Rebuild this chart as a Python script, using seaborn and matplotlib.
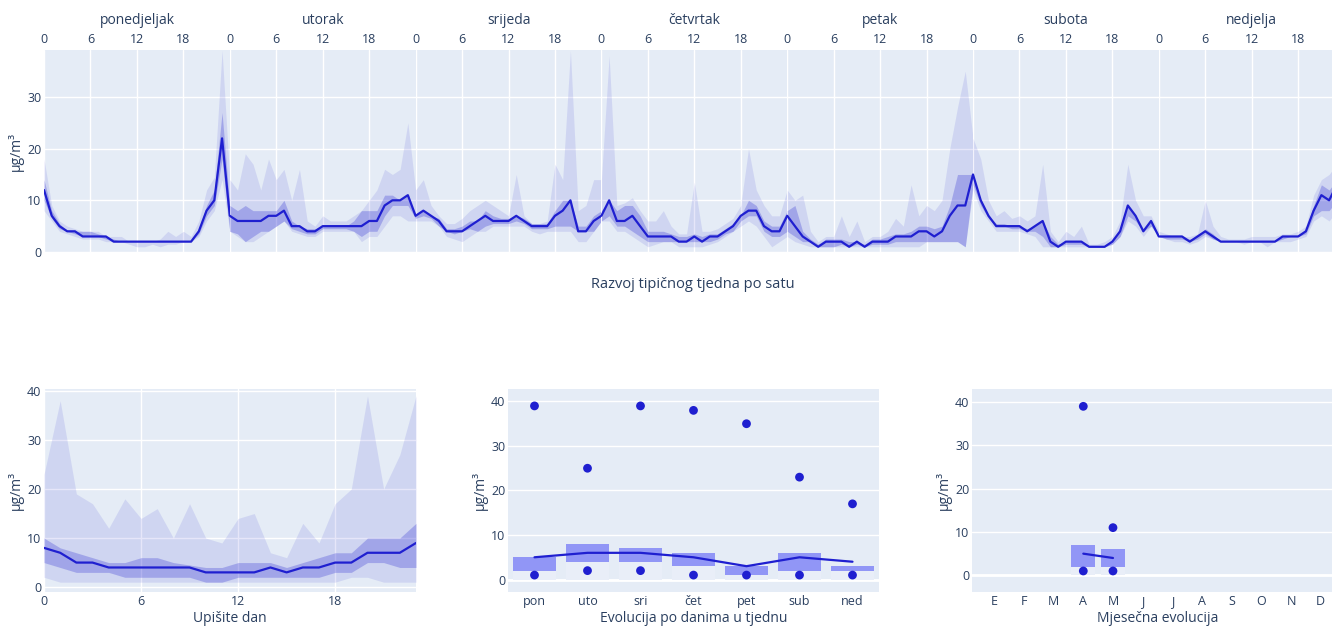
import numpy as np
import pandas as pd
import matplotlib
matplotlib.use("Agg")
import matplotlib.pyplot as plt
import seaborn as sns

# ---------------- data ----------------
days = ["ponedjeljak", "utorak", "srijeda", "četvrtak", "petak", "subota", "nedjelja"]
hours = list(range(24))

med_pon = [12, 7, 5, 4, 4, 3, 3, 3, 3, 2, 2, 2, 2, 2, 2, 2, 2, 2, 2, 2, 4, 8, 10, 22]
med_uto = [7, 6, 6, 6, 6, 7, 7, 8, 5, 5, 4, 4, 5, 5, 5, 5, 5, 5, 6, 6, 9, 10, 10, 11]
med_sri = [7, 8, 7, 6, 4, 4, 4, 5, 6, 7, 6, 6, 6, 7, 6, 5, 5, 5, 7, 8, 10, 4, 4, 6]
med_cet = [7, 10, 6, 6, 7, 5, 3, 3, 3, 3, 2, 2, 3, 2, 3, 3, 4, 5, 7, 8, 8, 5, 4, 4]
med_pet = [7, 5, 3, 2, 1, 2, 2, 2, 1, 2, 1, 2, 2, 2, 3, 3, 3, 4, 4, 3, 4, 7, 9, 9]
med_sub = [15, 10, 7, 5, 5, 5, 5, 4, 5, 6, 2, 1, 2, 2, 2, 1, 1, 1, 2, 4, 9, 7, 4, 6]
med_ned = [3, 3, 3, 3, 2, 3, 4, 3, 2, 2, 2, 2, 2, 2, 2, 2, 3, 3, 3, 4, 8, 11, 10, 13]

hi_pon = [18, 9, 6, 5, 4.5, 4, 4, 4, 3, 3, 3, 2, 2, 2, 2, 2.5, 4, 3, 4, 3, 6, 12, 14.5, 39]
lo_pon = [8, 6, 4, 3.5, 3, 2.5, 2.5, 2.5, 2, 2, 2, 1.5, 1, 1, 1.5, 1, 1.5, 1.5, 2, 2, 3, 6, 8, 14]
q3_pon = [14, 8, 5.5, 4, 4, 4, 4, 3.5, 3, 2.5, 2, 2, 2, 2, 2, 2, 2, 2, 2, 2, 4.5, 9, 12, 27]
q1_pon = [10, 6.5, 4.5, 4, 3.5, 3, 3, 3, 2.5, 2, 2, 2, 2, 2, 2, 2, 2, 2, 2, 2, 3.5, 7, 9, 18]

hi_uto = [14, 12, 19, 17, 12, 18, 14, 16, 10, 16, 6, 5, 7, 6, 6, 6, 7, 8, 10, 12, 16, 15, 16, 25]
lo_uto = [4, 3, 2, 2, 3, 4, 5, 6, 4, 3.5, 3, 3, 4, 4, 4, 4, 4, 2, 3, 3, 5, 7, 7, 6]
q3_uto = [9, 8, 9, 8, 8, 8, 8, 10, 6, 5, 4.5, 4.5, 5, 5, 5, 5, 6, 8, 8, 8, 11, 11, 10, 11]
q1_uto = [4, 3.5, 2, 3, 4, 4, 5, 6, 4.5, 4, 3.5, 3.5, 4.5, 4.5, 4.5, 4.5, 4, 3, 4, 4, 7, 9, 9, 9]

hi_sri = [12, 14, 9, 7, 5.5, 5.5, 6.5, 8, 9, 10, 9, 8, 7, 15, 7, 5.5, 5.5, 6, 17, 14, 39, 8, 9, 14]
lo_sri = [6, 6, 6, 5, 3, 2.5, 2, 3, 4, 4, 5, 5, 5, 5, 5, 4, 3.5, 4, 4, 4, 4, 2, 2, 4]
q3_sri = [7, 8, 7, 6.5, 4.5, 4.5, 5, 6, 6, 8, 7, 6.5, 6.5, 7, 6.5, 5.5, 5.5, 5.5, 8, 10, 10, 5, 5, 7]
q1_sri = [6.5, 7, 6.5, 5, 4, 3.5, 4, 4.5, 4, 5, 5.5, 5.5, 5.5, 6, 5.5, 4.5, 4.5, 4.5, 5, 5, 5, 4, 4, 4]

hi_cet = [14, 38, 9, 9.5, 10.5, 8, 6, 6, 8, 5, 3.5, 3.5, 13.5, 4, 4, 4.5, 5.5, 6.5, 9, 20, 12, 9, 7, 7]
lo_cet = [6, 6, 4, 4, 3, 2, 1, 1.5, 2, 2, 1, 1, 1, 1, 1.5, 2, 3, 4, 5, 6, 5, 3, 1, 2]
q3_cet = [8, 10, 8, 9, 9, 7, 4, 4, 4, 3.5, 3, 3, 3.5, 3, 3.5, 3.5, 4.5, 5.5, 7, 10, 9, 6, 5, 5]
q1_cet = [6, 7, 5, 5, 4, 3, 2, 2, 2, 2, 2, 2, 2, 2, 2, 2.5, 3.5, 4, 6, 7, 7, 4, 3, 3]

hi_pet = [12, 10, 11, 4, 2, 3, 3, 7, 3, 6, 2, 3, 3, 4, 6.5, 5, 13, 7, 9, 8, 10, 20, 28, 35]
lo_pet = [3, 2, 1.5, 1, 1, 1, 1, 1, 1, 1, 1, 1, 1, 1, 1, 1, 1, 1, 2, 2, 2, 2, 2, 1]
q3_pet = [8, 9, 4, 2.5, 1.5, 2.5, 2.5, 2.5, 2, 2, 1.5, 2.5, 2.5, 3, 3.5, 3.5, 4, 5, 5, 4.5, 5, 9, 15, 15]
q1_pet = [4, 3, 2, 2, 1, 1, 1, 1.5, 1, 1.5, 1, 1.5, 1.5, 1.5, 2, 2, 2, 2, 2, 2, 2, 2, 2, 1]

hi_sub = [22, 18, 10, 7, 8, 6.5, 7, 6, 7, 17, 4, 2, 4, 3, 5, 1.5, 1.5, 2, 3, 6, 17, 10, 7, 7]
lo_sub = [12, 8, 6, 4, 4, 4, 4, 3.5, 3, 1, 1, 1, 1, 1, 1, 1, 1, 1, 1.5, 3, 6, 5, 3, 5]
q3_sub = [15, 10, 7, 5.5, 5.5, 5, 5, 4.5, 5, 6, 3, 1.5, 2, 2, 2, 1, 1, 1, 2, 4.5, 9, 7, 4.5, 6]
q1_sub = [13, 9, 6.5, 5, 5, 4.5, 4.5, 4, 4, 3, 1, 1, 1.5, 1.5, 1.5, 1, 1, 1, 1.5, 3, 7, 6, 4, 5]

hi_ned = [4, 3.5, 3, 3, 3, 3.5, 10, 5, 3, 2.5, 2.5, 2.5, 3, 3, 3, 3, 3.5, 3.5, 4, 5, 11, 14, 15, 17]
lo_ned = [3, 2.5, 2, 2, 1.5, 2, 3, 2.5, 2, 2, 2, 1.5, 2, 2, 1, 2, 2, 2, 2.5, 3, 6, 7, 6, 8]
q3_ned = [3, 3, 3, 3, 2.5, 3, 4.5, 3.5, 2, 2, 2, 2, 2, 2, 2, 2, 3, 3, 3, 4.5, 9, 13, 12, 14]
q1_ned = [3, 2.5, 2.5, 2.5, 2, 2.5, 3.5, 2.5, 2, 2, 2, 2, 2, 2, 2, 2, 2.5, 3, 3, 3.5, 7, 8, 8, 10]

# typical day (all days combined)
day_med = [8, 7, 5, 5, 4, 4, 4, 4, 4, 4, 3, 3, 3, 3, 4, 3, 4, 4, 5, 5, 7, 7, 7, 9]
day_hi = [23, 38, 19, 17, 12, 18, 14, 16, 10, 17, 10, 9, 14, 15, 7, 6, 13, 9, 17, 20, 39, 20, 27, 39]
day_lo = [2, 1, 1, 1, 1, 1, 1, 1, 1, 1, 1, 1, 1, 1, 1, 1, 1, 1, 1, 2, 2, 1, 1, 1]
day_q3 = [10, 8, 7, 6, 5, 5, 6, 6, 5, 4.5, 4, 4, 5, 5, 5, 4, 5, 6, 7, 7, 10, 10, 10, 13]
day_q1 = [5, 4, 3, 3, 3, 2, 2, 2, 2, 2, 1, 1, 2, 2, 2, 2, 2, 2, 3, 3, 5, 5, 4, 4]

# weekday summary
wd_labels = ["pon", "uto", "sri", "čet", "pet", "sub", "ned"]
wd_min = [1, 2, 2, 1, 1, 1, 1]
wd_q1 = [2, 4, 4, 3, 1, 2, 2]
wd_med = [5, 6, 6, 5, 3, 5, 4]
wd_q3 = [5, 8, 7, 6, 3, 6, 3]
wd_max = [39, 25, 39, 38, 35, 23, 17]

# monthly summary
mo_labels = ["E", "F", "M", "A", "M", "J", "J", "A", "S", "O", "N", "D"]
mo_pos = [3, 4]
mo_min = [1, 1]
mo_q1 = [2, 2]
mo_med = [5, 4]
mo_q3 = [7, 6]
mo_max = [39, 11]

week_med = [med_pon, med_uto, med_sri, med_cet, med_pet, med_sub, med_ned]
week_hi = [hi_pon, hi_uto, hi_sri, hi_cet, hi_pet, hi_sub, hi_ned]
week_lo = [lo_pon, lo_uto, lo_sri, lo_cet, lo_pet, lo_sub, lo_ned]
week_q3 = [q3_pon, q3_uto, q3_sri, q3_cet, q3_pet, q3_sub, q3_ned]
week_q1 = [q1_pon, q1_uto, q1_sri, q1_cet, q1_pet, q1_sub, q1_ned]

# ---------------- style ----------------
sns.set_theme(style="darkgrid")
plt.rcParams["font.family"] = ["Open Sans", "DejaVu Sans"]
BG = "#E5ECF6"
TXT = "#2a3f5f"
LINE = "#1f1fd0"
BOX = "#9196f6"
plt.rcParams.update({
    "axes.facecolor": BG, "grid.color": "white", "grid.linewidth": 1.0,
    "text.color": TXT, "axes.labelcolor": TXT, "xtick.color": TXT, "ytick.color": TXT,
    "xtick.labelsize": 9, "ytick.labelsize": 9, "axes.labelsize": 10,
})

W, H = 1332, 629
fig = plt.figure(figsize=(W / 100, H / 100), dpi=100)


def px_axes(l, t, r, b):
    ax = fig.add_axes([l / W, 1 - b / H, (r - l) / W, (b - t) / H])
    ax.set_facecolor(BG)
    for s in ax.spines.values():
        s.set_visible(False)
    ax.tick_params(length=0, pad=2)
    return ax


def bands(ax, x, lo, hi, q1, q3):
    ax.fill_between(x, lo, hi, color=LINE, alpha=0.11, lw=0, zorder=2)
    ax.fill_between(x, q1, q3, color=LINE, alpha=0.26, lw=0, zorder=3)


# ---------------- top row ----------------
pw = 185.8
for i, name in enumerate(days):
    l = 44 + i * pw
    ax = px_axes(l, 50, l + pw, 253)
    nxt = (i + 1) % 7
    x = hours + [24]
    med = week_med[i] + [week_med[nxt][0]]
    hi = week_hi[i] + [week_hi[nxt][0]]
    lo = week_lo[i] + [week_lo[nxt][0]]
    q1 = week_q1[i] + [week_q1[nxt][0]]
    q3 = week_q3[i] + [week_q3[nxt][0]]
    bands(ax, x, lo, hi, q1, q3)
    df = pd.DataFrame({"hour": x, "value": med})
    sns.lineplot(data=df, x="hour", y="value", ax=ax, color=LINE, lw=1.6, zorder=4)
    ax.set_xlim(0, 24)
    ax.set_ylim(-0.2, 39.1)
    ax.set_xticks([0, 6, 12, 18])
    ax.xaxis.tick_top()
    ax.tick_params(axis="x", pad=3)
    ax.set_yticks([0, 10, 20, 30])
    ax.set_xlabel("")
    if i == 0:
        ax.set_ylabel("µg/m³", labelpad=2)
    else:
        ax.set_yticklabels([])
        ax.set_ylabel("")
    ax.grid(True, color="white", lw=1.0)
    fig.text((l + pw / 2) / W, 1 - 21 / H, name, ha="center", va="center", fontsize=10, color=TXT)

fig.text(693 / W, 1 - 284 / H, "Razvoj tipičnog tjedna po satu", ha="center", va="center",
         fontsize=10.5, color=TXT)

# ---------------- bottom left: typical day ----------------
ax = px_axes(44, 389, 416, 592)
bands(ax, hours, day_lo, day_hi, day_q1, day_q3)
sns.lineplot(x=hours, y=day_med, ax=ax, color=LINE, lw=1.6, zorder=4)
ax.set_xlim(0, 23)
ax.set_ylim(-1, 40.4)
ax.set_xticks([0, 6, 12, 18])
ax.set_yticks([0, 10, 20, 30, 40])
ax.set_xlabel("Upišite dan", labelpad=2)
ax.set_ylabel("µg/m³", labelpad=2)


def summary(ax, pos, mn, q1, md, q3, mx):
    ax.axhline(0, color="white", lw=2, zorder=1)
    ax.bar(pos, q1, width=0.8, color="#e9eef8", zorder=2, lw=0)
    ax.bar(pos, np.array(q3) - np.array(q1), bottom=q1, width=0.8, color=BOX, zorder=3, lw=0)
    sns.lineplot(x=pos, y=md, ax=ax, color=LINE, lw=1.6, zorder=4)
    sns.scatterplot(x=pos, y=mn, ax=ax, color=LINE, s=40, edgecolor="none", zorder=5)
    sns.scatterplot(x=pos, y=mx, ax=ax, color=LINE, s=40, edgecolor="none", zorder=5)
    ax.grid(True, axis="y", color="white", lw=1.0)
    ax.grid(False, axis="x")
    ax.set_yticks([0, 10, 20, 30, 40])


# ---------------- bottom middle: weekdays ----------------
ax = px_axes(508, 389, 879, 592)
wpos = list(range(len(wd_labels)))
summary(ax, wpos, wd_min, wd_q1, wd_med, wd_q3, wd_max)
ax.set_xticks(wpos)
ax.set_xticklabels(wd_labels)
ax.set_xlim(-0.5, 6.5)
ax.set_ylim(-2.8, 42.8)
ax.set_xlabel("Evolucija po danima u tjednu", labelpad=2)
ax.set_ylabel("µg/m³", labelpad=2)

# ---------------- bottom right: months ----------------
ax = px_axes(972, 389, 1343, 592)
summary(ax, mo_pos, mo_min, mo_q1, mo_med, mo_q3, mo_max)
ax.set_xticks(range(len(mo_labels)))
ax.set_xticklabels(mo_labels)
ax.set_xlim(-0.75, 11.75)
ax.set_ylim(-3.85, 43)
ax.set_xlabel("Mjesečna evolucija", labelpad=2)
ax.set_ylabel("µg/m³", labelpad=2)

fig.savefig("out.png", dpi=100, facecolor="white")
